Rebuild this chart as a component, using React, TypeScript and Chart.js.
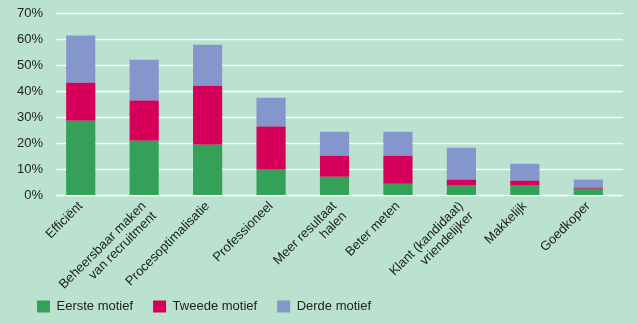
import React, { useEffect, useRef } from "react";
import { Chart, registerables } from "chart.js";

Chart.register(...registerables);

const categories: (string | string[])[] = [
  "Efficiënt",
  ["Beheersbaar maken", "van recruitment"],
  "Procesoptimalisatie",
  "Professioneel",
  ["Meer resultaat", "halen"],
  "Beter meten",
  ["Klant (kandidaat)", "vriendelijker"],
  "Makkelijk",
  "Goedkoper",
];
const eersteMotief = [28.6, 20.9, 19.3, 10.0, 7.0, 4.3, 3.6, 3.6, 2.4];
const tweedeMotief = [14.6, 15.4, 22.7, 16.3, 8.1, 10.8, 2.3, 1.9, 0.4];
const derdeMotief = [18.1, 15.7, 15.8, 11.1, 9.2, 9.2, 12.3, 6.5, 3.1];
const seriesNames = ["Eerste motief", "Tweede motief", "Derde motief"];
const yMax = 70;
const yStep = 10;

const BG = "#bae2cf";
const COLORS = ["#35a058", "#d6005a", "#8596cc"];
const TEXT = "#222222";
const FONT = "'Liberation Sans', Arial, sans-serif";

const gridPlugin = {
  id: "customGrid",
  beforeDatasetsDraw(chart: any) {
    const { ctx, chartArea, scales } = chart;
    const y = scales.y;
    ctx.save();
    ctx.strokeStyle = "#ffffff";
    ctx.lineWidth = 1.5;
    y.ticks.forEach((t: any) => {
      const py = Math.round(y.getPixelForValue(t.value)) + 0.5;
      ctx.beginPath();
      ctx.moveTo(chartArea.left + 7, py);
      ctx.lineTo(chartArea.right + 3, py);
      ctx.stroke();
    });
    ctx.restore();
  },
};

export default function App() {
  const ref = useRef<HTMLCanvasElement | null>(null);
  useEffect(() => {
    if (!ref.current) return;
    const chart = new Chart(ref.current, {
      type: "bar",
      data: {
        labels: categories as any,
        datasets: [eersteMotief, tweedeMotief, derdeMotief].map((d, i) => ({
          label: seriesNames[i],
          data: d,
          backgroundColor: COLORS[i],
          borderWidth: 0,
          categoryPercentage: 1,
          barPercentage: 0.46,
        })),
      },
      options: {
        animation: false,
        responsive: false,
        layout: { padding: { left: 17, right: 18, top: 13, bottom: 1 } },
        plugins: {
          tooltip: { enabled: false },
          legend: {
            position: "bottom",
            align: "start",
            labels: {
              boxWidth: 13,
              boxHeight: 12,
              padding: 20,
              color: TEXT,
              font: { family: FONT, size: 13 },
            },
          },
        },
        scales: {
          x: {
            stacked: true,
            grid: { display: false, drawTicks: false },
            border: { display: false },
            ticks: {
              autoSkip: false,
              minRotation: 45,
              maxRotation: 45,
              padding: 4,
              color: TEXT,
              font: { family: FONT, size: 13, lineHeight: 1.1 },
            },
            afterFit(s: any) {
              s.height = 85;
              s.paddingLeft = 0;
              s.paddingRight = 0;
              s._computeLabelArea = () => null;
            },
          },
          y: {
            stacked: true,
            min: 0,
            max: yMax,
            grid: { display: false, drawTicks: false },
            border: { display: false },
            ticks: {
              stepSize: yStep,
              padding: 6,
              color: TEXT,
              font: { family: FONT, size: 13 },
              callback: (v: any) => v + "%",
            },
            afterFit(s: any) {
              s.width = 32;
              s.paddingTop = 0;
              s.paddingBottom = 0;
              s._computeLabelArea = () => null;
            },
          },
        },
      },
      plugins: [gridPlugin],
    });
    return () => chart.destroy();
  }, []);
  return (
    <div style={{ position: "absolute", left: 0, top: 0, width: 638, height: 324, background: BG }}>
      <canvas ref={ref} width={638} height={324} style={{ display: "block" }} />
    </div>
  );
}
